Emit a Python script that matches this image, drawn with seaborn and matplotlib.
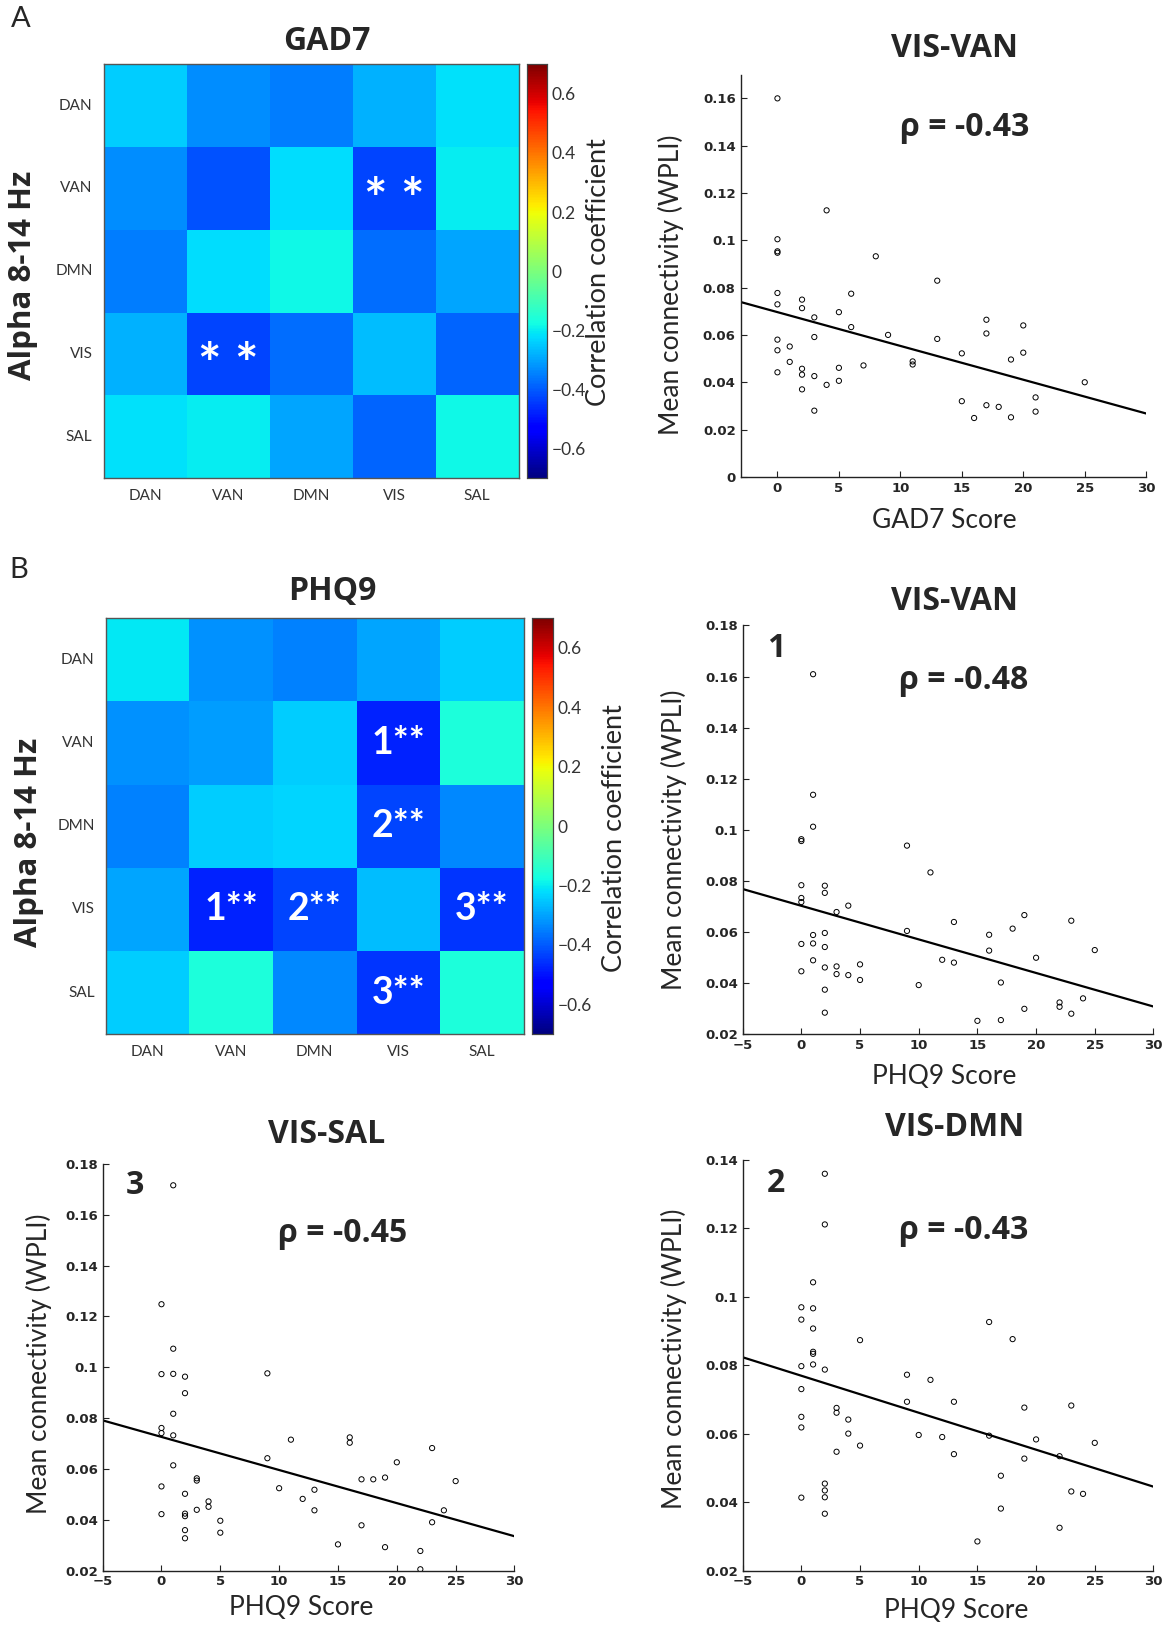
import numpy as np
import pandas as pd
import seaborn as sns
import matplotlib
matplotlib.use("Agg")
import matplotlib.pyplot as plt
from matplotlib.ticker import FuncFormatter

# ---------------- data ----------------
networks = ["DAN", "VAN", "DMN", "VIS", "SAL"]

gad7_corr = [
    [-0.245, -0.33, -0.355, -0.28, -0.217],
    [-0.33, -0.415, -0.22, -0.43, -0.20],
    [-0.355, -0.22, -0.185, -0.372, -0.30],
    [-0.28, -0.43, -0.372, -0.265, -0.385],
    [-0.217, -0.20, -0.30, -0.385, -0.185],
]
gad7_marks = [
    ["", "", "", "", ""],
    ["", "", "", "* *", ""],
    ["", "", "", "", ""],
    ["", "* *", "", "", ""],
    ["", "", "", "", ""],
]

phq9_corr = [
    [-0.205, -0.328, -0.348, -0.30, -0.245],
    [-0.328, -0.31, -0.245, -0.48, -0.16],
    [-0.348, -0.245, -0.23, -0.43, -0.337],
    [-0.30, -0.48, -0.43, -0.265, -0.45],
    [-0.245, -0.16, -0.337, -0.45, -0.16],
]
phq9_marks = [
    ["", "", "", "", ""],
    ["", "", "", "1**", ""],
    ["", "", "", "2**", ""],
    ["", "1**", "2**", "", "3**"],
    ["", "", "", "3**", ""],
]

# GAD7 vs VIS-VAN
gad_x = [0, 0, 0, 0, 0, 0, 0, 0, 0, 1, 1, 2, 2, 2, 2, 2, 3, 3, 3, 3, 4, 4, 5, 5, 5,
         6, 6, 7, 8, 9, 11, 11, 13, 13, 15, 15, 16, 17, 17, 17, 18, 19, 19, 20, 20,
         21, 21, 25]
gad_y = [0.160, 0.1005, 0.0954, 0.0948, 0.0778, 0.0730, 0.0581, 0.0536, 0.0443,
         0.0552, 0.0487, 0.0750, 0.0714, 0.0458, 0.0433, 0.0371, 0.0675, 0.0592,
         0.0427, 0.0281, 0.1127, 0.0390, 0.0697, 0.0462, 0.0407, 0.0775, 0.0634,
         0.0472, 0.0933, 0.0601, 0.0489, 0.0476, 0.0830, 0.0584, 0.0523, 0.0321,
         0.0250, 0.0665, 0.0607, 0.0304, 0.0297, 0.0497, 0.0253, 0.0641, 0.0526,
         0.0337, 0.0277, 0.0401]
gad_fit_x = [-3, 30]
gad_fit_y = [0.0740, 0.0269]

# PHQ9 vs VIS-VAN
van_x = [1, 1, 1, 0, 0, 9, 11, 0, 0, 0, 2, 2, 4, 3, 9, 13, 0, 0, 1, 1, 1, 2, 2, 2,
         2, 2, 3, 3, 4, 5, 5, 10, 12, 13, 15, 16, 16, 17, 17, 18, 19, 19, 20, 22,
         22, 23, 23, 24, 25]
van_y = [0.1609, 0.1137, 0.1012, 0.0963, 0.0956, 0.0938, 0.0833, 0.0783, 0.0733,
         0.0717, 0.0781, 0.0753, 0.0703, 0.0678, 0.0604, 0.0639, 0.0553, 0.0446,
         0.0588, 0.0555, 0.0489, 0.0596, 0.0541, 0.0461, 0.0374, 0.0284, 0.0465,
         0.0435, 0.0431, 0.0473, 0.0412, 0.0392, 0.0491, 0.0480, 0.0252, 0.0589,
         0.0527, 0.0402, 0.0255, 0.0613, 0.0666, 0.0299, 0.0499, 0.0324, 0.0307,
         0.0644, 0.0280, 0.0340, 0.0529]
van_fit_x = [-5, 30]
van_fit_y = [0.0768, 0.0308]

# PHQ9 vs VIS-SAL
sal_x = [1, 0, 1, 0, 1, 2, 2, 1, 0, 0, 1, 1, 0, 0, 2, 2, 2, 2, 2, 3, 3, 3, 4, 4, 5,
         5, 9, 9, 10, 11, 12, 13, 13, 15, 16, 16, 17, 17, 18, 19, 19, 20, 22, 22,
         23, 23, 24, 25]
sal_y = [0.1716, 0.1248, 0.1073, 0.0973, 0.0974, 0.0963, 0.0898, 0.0817, 0.0761,
         0.0741, 0.0732, 0.0614, 0.0531, 0.0422, 0.0502, 0.0424, 0.0414, 0.0359,
         0.0327, 0.0563, 0.0554, 0.0439, 0.0472, 0.0451, 0.0396, 0.0349, 0.0976,
         0.0642, 0.0524, 0.0715, 0.0482, 0.0518, 0.0437, 0.0303, 0.0724, 0.0703,
         0.0559, 0.0378, 0.0559, 0.0566, 0.0292, 0.0626, 0.0277, 0.0205, 0.0682,
         0.0390, 0.0437, 0.0552]
sal_fit_x = [-5, 30]
sal_fit_y = [0.0791, 0.0335]

# PHQ9 vs VIS-DMN
dmn_x = [2, 2, 1, 0, 1, 0, 1, 1, 1, 1, 0, 2, 0, 0, 0, 0, 2, 2, 2, 2, 3, 3, 3, 4, 4,
         5, 5, 9, 9, 10, 11, 12, 13, 13, 15, 16, 16, 17, 17, 18, 19, 19, 20, 22,
         22, 23, 23, 24, 25]
dmn_y = [0.1359, 0.1211, 0.1042, 0.0969, 0.0966, 0.0933, 0.0907, 0.0839, 0.0833,
         0.0802, 0.0797, 0.0787, 0.0730, 0.0649, 0.0618, 0.0413, 0.0454, 0.0434,
         0.0414, 0.0366, 0.0675, 0.0661, 0.0547, 0.0641, 0.0600, 0.0873, 0.0565,
         0.0772, 0.0693, 0.0596, 0.0757, 0.0590, 0.0693, 0.0540, 0.0285, 0.0926,
         0.0594, 0.0477, 0.0381, 0.0876, 0.0676, 0.0527, 0.0583, 0.0534, 0.0325,
         0.0682, 0.0431, 0.0424, 0.0573]
dmn_fit_x = [-5, 30]
dmn_fit_y = [0.0823, 0.0445]

# ---------------- styling ----------------
sns.set_theme(style="ticks")
plt.rcParams["font.family"] = ["Lato", "Open Sans", "DejaVu Sans"]

fig = plt.figure(figsize=(11.69, 16.27), dpi=100)


def draw_heatmap(rect, cbar_rect, values, marks, star_size, star_shift):
    ax = fig.add_axes(rect)
    cax = fig.add_axes(cbar_rect)
    df = pd.DataFrame(values, index=networks, columns=networks)
    sns.heatmap(df, ax=ax, cbar_ax=cax, cmap="jet", vmin=-0.7, vmax=0.7,
                annot=np.array(marks), fmt="",
                annot_kws=dict(color="white", fontsize=star_size, fontweight="bold"),
                linewidths=0, square=False)
    # asterisks sit high in the glyph box, nudge them down to the cell centre
    for t in ax.texts:
        x, y = t.get_position()
        t.set_position((x, y + star_shift))
    for s in ax.spines.values():
        s.set_visible(True)
        s.set_color("#555555")
        s.set_linewidth(1.0)
    ax.tick_params(direction="in", top=True, right=True, length=4,
                   color="#555555", labelsize=11, labelcolor="#333333", pad=8)
    ax.set_xticklabels(networks, rotation=0)
    ax.set_yticklabels(networks, rotation=0)
    ax.set_xlabel("")
    ax.set_ylabel("")
    cax.set_yticks([-0.6, -0.4, -0.2, 0, 0.2, 0.4, 0.6])
    cax.yaxis.set_major_formatter(
        FuncFormatter(lambda v, p: "0" if abs(v) < 1e-9 else ("%.1f" % v).replace("-", "\u2212")))
    cax.tick_params(direction="in", length=3, labelsize=12.5, labelcolor="#333333",
                    color="#333333")
    for s in cax.spines.values():
        s.set_visible(True)
        s.set_color("#444444")
        s.set_linewidth(0.8)
    return ax


def draw_scatter(rect, xs, ys, fx, fy, xlim, ylim, yticks, rho, tag=None, tagpos=None,
                 rhopos=(0.55, 0.86)):
    ax = fig.add_axes(rect)
    sns.lineplot(x=fx, y=fy, ax=ax, color="black", linewidth=1.6)
    sns.scatterplot(x=xs, y=ys, ax=ax, marker="o", s=14, facecolor="none",
                    edgecolor="black", linewidth=0.7)
    ax.set_xlim(*xlim)
    ax.set_ylim(*ylim)
    ax.set_xticks([t for t in [-5, 0, 5, 10, 15, 20, 25, 30] if t >= xlim[0]])
    ax.set_yticks(yticks)
    ax.yaxis.set_major_formatter(FuncFormatter(lambda v, p: ("%g" % round(v, 2))))
    sns.despine(ax=ax)
    for s in ["left", "bottom"]:
        ax.spines[s].set_linewidth(1.0)
        ax.spines[s].set_color("#222222")
    ax.tick_params(direction="in", length=4, labelsize=9.5, width=0.8, color="#222222")
    for lab in ax.get_xticklabels() + ax.get_yticklabels():
        lab.set_fontweight("bold")
        lab.set_family(["DejaVu Sans"])
    ax.text(rhopos[0], rhopos[1], "\u03c1 = " + rho, transform=ax.transAxes,
            ha="center", va="center", fontsize=23, fontweight="bold",
            family=["Open Sans", "DejaVu Sans"])
    if tag is not None:
        ax.text(tagpos[0], tagpos[1], tag, transform=ax.transAxes, ha="center",
                va="center", fontsize=23, fontweight="bold",
                family=["Open Sans", "DejaVu Sans"])
    return ax


# ---------------- panel A ----------------
draw_heatmap([0.0887, 0.7061, 0.355, 0.2544], [0.4508, 0.7061, 0.0169, 0.2544],
             gad7_corr, gad7_marks, 40, 0.16)
draw_scatter([0.6335, 0.7067, 0.347, 0.2474], gad_x, gad_y, gad_fit_x, gad_fit_y,
             (-3, 30), (0, 0.17), [0, 0.02, 0.04, 0.06, 0.08, 0.1, 0.12, 0.14, 0.16],
             "-0.43", rhopos=(0.552, 0.869))

# ---------------- panel B ----------------
draw_heatmap([0.0905, 0.3644, 0.3576, 0.2557], [0.4552, 0.3644, 0.0178, 0.2557],
             phq9_corr, phq9_marks, 27, 0.0)
yt18 = [0.02, 0.04, 0.06, 0.08, 0.1, 0.12, 0.14, 0.16, 0.18]
draw_scatter([0.6353, 0.3644, 0.3514, 0.2512], van_x, van_y, van_fit_x, van_fit_y,
             (-5, 30), (0.02, 0.18), yt18, "-0.48", tag="1", tagpos=(0.081, 0.944),
             rhopos=(0.539, 0.865))
draw_scatter([0.0878, 0.0347, 0.3523, 0.2499], sal_x, sal_y, sal_fit_x, sal_fit_y,
             (-5, 30), (0.02, 0.18), yt18, "-0.45", tag="3", tagpos=(0.078, 0.947),
             rhopos=(0.582, 0.829))
draw_scatter([0.6353, 0.0347, 0.3514, 0.2525], dmn_x, dmn_y, dmn_fit_x, dmn_fit_y,
             (-5, 30), (0.02, 0.14), [0.02, 0.04, 0.06, 0.08, 0.1, 0.12, 0.14], "-0.43",
             tag="2", tagpos=(0.081, 0.942), rhopos=(0.539, 0.828))

# ---------------- figure texts ----------------
fig.text(0.0177, 0.9885, "A", fontsize=21, ha="center", va="center")
fig.text(0.016, 0.6494, "B", fontsize=21, ha="center", va="center")

title_kw = dict(fontsize=23, fontweight="bold", ha="center", va="center",
                family=["Open Sans", "DejaVu Sans"])
fig.text(0.2795, 0.9745, "GAD7", **title_kw)
fig.text(0.8163, 0.970, "VIS-VAN", **title_kw)
fig.text(0.284, 0.6366, "PHQ9", **title_kw)
fig.text(0.8163, 0.6302, "VIS-VAN", **title_kw)
fig.text(0.2795, 0.3025, "VIS-SAL", **title_kw)
fig.text(0.8163, 0.307, "VIS-DMN", **title_kw)

alpha_kw = dict(fontsize=22.5, fontweight="bold", rotation=90, ha="center", va="center",
                family=["Open Sans", "DejaVu Sans"])
fig.text(0.0195, 0.831, "Alpha 8-14 Hz", **alpha_kw)
fig.text(0.0248, 0.4823, "Alpha 8-14 Hz", **alpha_kw)

cb_kw = dict(fontsize=19.5, rotation=90, ha="center", va="center")
fig.text(0.512, 0.833, "Correlation coefficient", **cb_kw)
fig.text(0.526, 0.485, "Correlation coefficient", **cb_kw)

yl_kw = dict(fontsize=19, rotation=90, ha="center", va="center")
fig.text(0.574, 0.8247, "Mean connectivity (WPLI)", **yl_kw)
fig.text(0.5767, 0.4836, "Mean connectivity (WPLI)", **yl_kw)
fig.text(0.0337, 0.1616, "Mean connectivity (WPLI)", **yl_kw)
fig.text(0.5767, 0.1648, "Mean connectivity (WPLI)", **yl_kw)

xl_kw = dict(fontsize=19, ha="center", va="center")
fig.text(0.8075, 0.680, "GAD7 Score", **xl_kw)
fig.text(0.8075, 0.3382, "PHQ9 Score", **xl_kw)
fig.text(0.2573, 0.0118, "PHQ9 Score", **xl_kw)
fig.text(0.818, 0.0099, "PHQ9 Score", **xl_kw)

fig.savefig("out.png", dpi=100)
